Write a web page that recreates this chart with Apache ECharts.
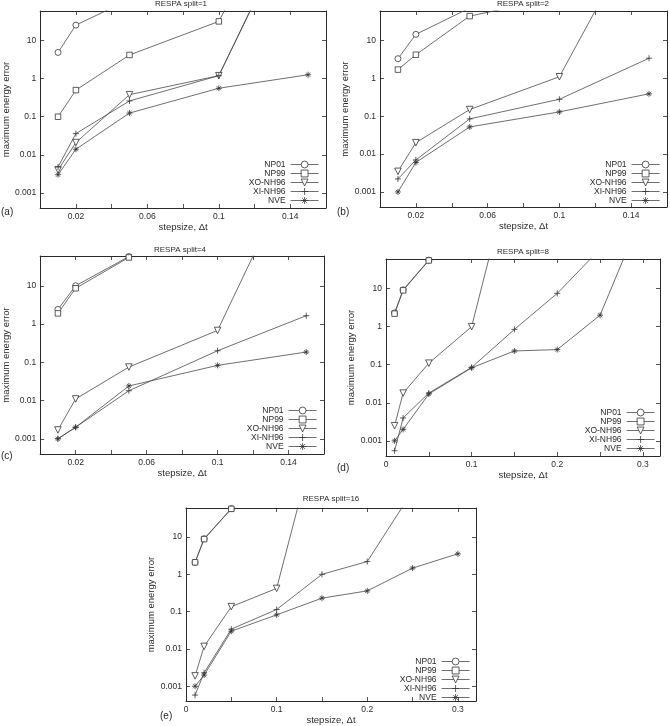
<!DOCTYPE html>
<html><head><meta charset="utf-8">
<script src="https://cdn.jsdelivr.net/npm/echarts@6/dist/echarts.min.js"></script>
<style>html,body{margin:0;padding:0;background:#fff}#c{width:670px;height:726px}</style>
</head><body><div id="c"></div>
<script>
// ---------- data ----------
const seriesNames = ['NP01', 'NP99', 'XO-NH96', 'XI-NH96', 'NVE'];
const panelTitles = ['RESPA split=1', 'RESPA split=2', 'RESPA split=4', 'RESPA split=8', 'RESPA split=16'];
const panelLetters = ['(a)', '(b)', '(c)', '(d)', '(e)'];
const yTickLabels = ['0.001', '0.01', '0.1', '1', '10'];
const xTickLabelsShort = ['0.02', '0.06', '0.1', '0.14'];
const xTickLabelsLong = ['0', '0.1', '0.2', '0.3'];
const xAxisName = 'stepsize, \u0394t';
const yAxisName = 'maximum energy error';

const stepA = [0.01, 0.02, 0.05, 0.1, 0.15];
const a_NP01 = [4.9, 25.6, 120];
const a_NP99 = [0.1, 0.5, 4.2, 32, 1e6];
const a_XO = [0.004, 0.021, 0.38, 1.2, 8e4];
const a_XI = [0.0048, 0.036, 0.26, 1.2, 9e4];
const a_NVE = [0.003, 0.014, 0.125, 0.56, 1.27];

const stepB = [0.01, 0.02, 0.05, 0.1, 0.15];
const b_NP01 = [3.3, 14.5, 72];
const b_NP99 = [1.7, 4.2, 44, 140];
const b_XO = [0.0035, 0.02, 0.15, 1.1, 2.5e4];
const b_XI = [0.0022, 0.007, 0.085, 0.28, 3.4];
const b_NVE = [0.001, 0.006, 0.052, 0.13, 0.39];

const stepC = [0.01, 0.02, 0.05, 0.1, 0.15];
const c_NP01 = [2.4, 10, 58];
const c_NP99 = [1.9, 8.6, 55];
const c_XO = [0.0017, 0.011, 0.075, 0.68, 5e4];
const c_XI = [0.001, 0.002, 0.018, 0.2, 1.65];
const c_NVE = [0.001, 0.002, 0.024, 0.083, 0.185];

const stepD = [0.01, 0.02, 0.05, 0.1, 0.15, 0.2, 0.25, 0.3];
const d_NP01 = [2.3, 9.3, 56];
const d_NP99 = [2.2, 9.0, 55];
const d_XO = [0.0025, 0.018, 0.11, 1.0, 2.7e4];
const d_XI = [0.00055, 0.004, 0.018, 0.085, 0.85, 7.5, 110];
const d_NVE = [0.001, 0.002, 0.017, 0.083, 0.23, 0.25, 2.0, 1000];

const stepE = [0.01, 0.02, 0.05, 0.1, 0.15, 0.2, 0.25, 0.3];
const e_NP01 = [2.1, 9.0, 58];
const e_NP99 = [2.1, 8.8, 57];
const e_XO = [0.0019, 0.0117, 0.136, 0.42, 1.9e4];
const e_XI = [0.00058, 0.0023, 0.034, 0.114, 1.0, 2.2, 170];
const e_NVE = [0.001, 0.002, 0.03, 0.082, 0.23, 0.36, 1.47, 3.55];

// ---------- layout / style ----------
const FONT = "'Liberation Sans', Arial, sans-serif";
const INK = '#2a2a2a';
const LINE = '#4a4a4a';
const panels = [
  { steps: stepA, ys: [a_NP01, a_NP99, a_XO, a_XI, a_NVE], grid: { left: 37, top: 11, width: 289, height: 197 }, long: false,
    legend: { right: 351, top: 160 }, title: { x: 181, y: 0 }, letter: { x: 1, y: 207 }, xGap: 13, yGap: 25 },
  { steps: stepB, ys: [b_NP01, b_NP99, b_XO, b_XI, b_NVE], grid: { left: 380, top: 11, width: 287, height: 196 }, long: false,
    legend: { right: 10, top: 160 }, title: { x: 523, y: 0 }, letter: { x: 337, y: 207 }, xGap: 13, yGap: 25 },
  { steps: stepC, ys: [c_NP01, c_NP99, c_XO, c_XI, c_NVE], grid: { left: 35, top: 256, width: 289, height: 198 }, long: false,
    legend: { right: 353, top: 406 }, title: { x: 180, y: 246 }, letter: { x: 1, y: 451 }, xGap: 11, yGap: 25 },
  { steps: stepD, ys: [d_NP01, d_NP99, d_XO, d_XI, d_NVE], grid: { left: 386, top: 259, width: 274, height: 197 }, long: true,
    legend: { right: 15, top: 408 }, title: { x: 523, y: 248 }, letter: { x: 337, y: 463 }, xGap: 12, yGap: 25 },
  { steps: stepE, ys: [e_NP01, e_NP99, e_XO, e_XI, e_NVE], grid: { left: 186, top: 508, width: 290, height: 197 }, long: true,
    legend: { right: 200, top: 657 }, title: { x: 331, y: 495 }, letter: { x: 160, y: 711 }, xGap: 11, yGap: 25 }
];
const symbols = ['circle', 'rect', 'triangle',
  'path://M5,0L5,10M0,5L10,5',
  'path://M5,0L5,10M0,5L10,5M1.6,1.6L8.4,8.4M8.4,1.6L1.6,8.4'];
const symbolRot = [0, 0, 180, 0, 0];
const symbolSz = [6, 5.5, 6.5, 6, 6];

function isPow10(v) { const l = Math.log10(v); return Math.abs(l - Math.round(l)) < 1e-6; }
function yFmt(v) {
  if (!isPow10(v)) return '';
  const e = Math.round(Math.log10(v));
  const idx = e + 3;
  return (idx >= 0 && idx < yTickLabels.length) ? yTickLabels[idx] : '';
}
function xFmtShort(v) { for (const s of xTickLabelsShort) if (Math.abs(parseFloat(s) - v) < 1e-9) return s; return ''; }
function xFmtLong(v) { for (const s of xTickLabelsLong) if (Math.abs(parseFloat(s) - v) < 1e-9) return s; return ''; }

const grid = [], xAxis = [], yAxis = [], series = [], legend = [], title = [];
const axisLine = { show: true, onZero: false, lineStyle: { color: INK, width: 1 } };
const tick = { show: true, inside: true, length: 4, lineStyle: { color: INK, width: 0.8 } };
const lbl = { color: INK, fontFamily: FONT, fontSize: 8.5 };

panels.forEach((p, i) => {
  grid.push(Object.assign({ containLabel: false }, p.grid));
  const xBase = { type: 'value', gridIndex: i, min: 0, max: p.long ? 0.32 : 0.16, interval: p.long ? 0.05 : 0.02,
    splitLine: { show: false }, axisLine, axisTick: tick };
  xAxis.push(Object.assign({}, xBase, { position: 'bottom',
    axisLabel: Object.assign({ margin: 4, formatter: p.long ? xFmtLong : xFmtShort, showMinLabel: true, showMaxLabel: true }, lbl),
    name: xAxisName, nameLocation: 'middle', nameGap: p.xGap,
    nameTextStyle: { color: INK, fontFamily: FONT, fontSize: 9.5 } }));
  xAxis.push(Object.assign({}, xBase, { position: 'top', axisLabel: { show: false } }));
  const yBase = { type: 'log', logBase: 10, gridIndex: i, min: 0.0004, max: 60,
    splitLine: { show: false }, axisLine, axisTick: tick };
  yAxis.push(Object.assign({}, yBase, { position: 'left',
    axisLabel: Object.assign({ margin: 4, formatter: yFmt, showMinLabel: false, showMaxLabel: false }, lbl),
    name: yAxisName, nameLocation: 'middle', nameGap: p.yGap, nameRotate: 90,
    nameTextStyle: { color: INK, fontFamily: FONT, fontSize: 9.5 } }));
  yAxis.push(Object.assign({}, yBase, { position: 'right', axisLabel: { show: false } }));

  seriesNames.forEach((nm, k) => {
    const ys = p.ys[k];
    series.push({
      type: 'line', name: nm, xAxisIndex: 2 * i, yAxisIndex: 2 * i,
      data: ys.map((y, j) => [p.steps[j], y]),
      symbol: symbols[k], symbolRotate: symbolRot[k], symbolSize: symbolSz[k],
      showAllSymbol: true, clip: true, animation: false,
      lineStyle: { color: LINE, width: 0.8 },
      itemStyle: { color: k < 3 ? '#fff' : '#333', borderColor: '#333', borderWidth: 0.8 },
      emphasis: { disabled: true }
    });
  });

  legend.push({
    data: seriesNames.slice(), orient: 'vertical', align: 'right',
    right: p.legend.right, top: p.legend.top, padding: 0, itemGap: 0,
    itemWidth: 28, itemHeight: 8.6, selectedMode: false,
    lineStyle: { width: 0.8, color: LINE },
    itemStyle: { borderWidth: 0.8, borderColor: '#333' },
    textStyle: { color: INK, fontFamily: FONT, fontSize: 8.5, lineHeight: 8.6, padding: [0, 0, 0, 0] }
  });
  title.push({ text: panelTitles[i], left: p.title.x, top: p.title.y, textAlign: 'center', padding: 0,
    textStyle: { color: INK, fontFamily: FONT, fontSize: 8, fontWeight: 'normal' } });
  title.push({ text: panelLetters[i], left: p.letter.x, top: p.letter.y, padding: 0,
    textStyle: { color: INK, fontFamily: FONT, fontSize: 10, fontWeight: 'normal' } });
});

const chart = echarts.init(document.getElementById('c'), null, { renderer: 'canvas' });
chart.setOption({ animation: false, backgroundColor: '#fff', grid, xAxis, yAxis, series, legend, title });
</script>
</body></html>
